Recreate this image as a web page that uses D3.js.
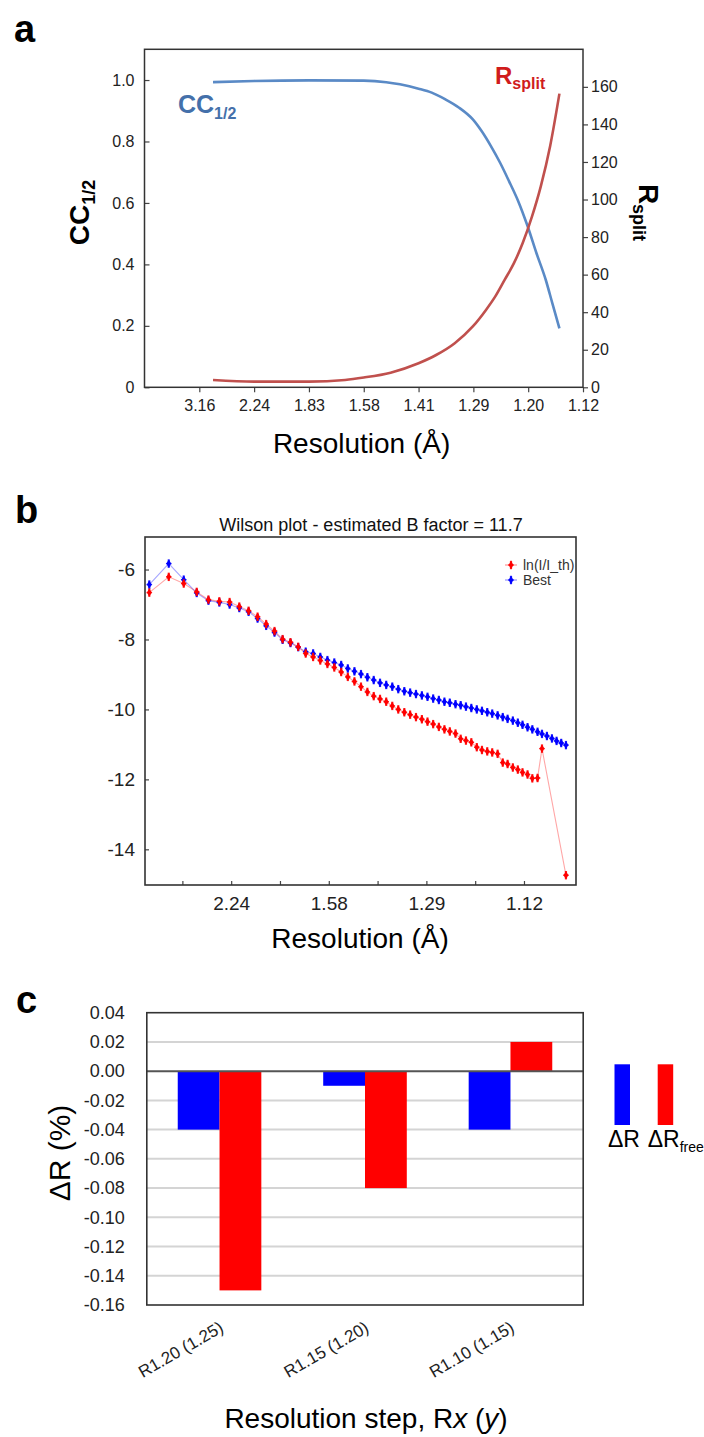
<!DOCTYPE html>
<html>
<head>
<meta charset="utf-8">
<script src="https://cdn.jsdelivr.net/npm/d3@7"></script>
<style>
  body { margin: 0; background: #fff; }
  svg { display: block; font-family: "Liberation Sans", Arial, sans-serif; }
</style>
</head>
<body>
<div id="fig"></div>
<script>
// panel a : CC1/2 and Rsplit against 1/d^2
const ccS    = [0.125, 0.2, 0.3, 0.4, 0.441, 0.466, 0.5, 0.524, 0.549, 0.574, 0.599, 0.615, 0.632, 0.649, 0.665, 0.682, 0.699, 0.715, 0.732, 0.744, 0.757]
const ccVals = [0.993, 0.997, 0.999, 0.998, 0.993, 0.986, 0.972, 0.959, 0.937, 0.910, 0.872, 0.834, 0.785, 0.730, 0.671, 0.605, 0.524, 0.437, 0.350, 0.274, 0.192]
const rsS    = [0.125, 0.2, 0.3, 0.366, 0.4, 0.449, 0.5, 0.532, 0.566, 0.599, 0.623, 0.640, 0.657, 0.674, 0.690, 0.707, 0.723, 0.740, 0.757]
const rsVals = [3.9, 3.0, 3.0, 3.9, 5.2, 7.8, 12.8, 17.2, 23.5, 32.4, 41.2, 48.4, 57.2, 66.1, 76.8, 91.0, 107, 128.4, 156.4]
const resTicksA = [0.1, 0.2, 0.3, 0.4, 0.5, 0.6, 0.7, 0.8]
const resLabelsA = ["3.16", "2.24", "1.83", "1.58", "1.41", "1.29", "1.20", "1.12"]

// panel b : Wilson plot
const wilsonS = [0.0322, 0.0721, 0.1028, 0.1294, 0.1534, 0.1757, 0.1968, 0.2166, 0.2357, 0.2541,
  0.2717, 0.2888, 0.3054, 0.3215, 0.3373, 0.3527, 0.3679, 0.3826, 0.3972, 0.4113,
  0.4254, 0.4390, 0.4526, 0.4660, 0.4791, 0.4921, 0.5050, 0.5177, 0.5301, 0.5424,
  0.5548, 0.5667, 0.5787, 0.5908, 0.6023, 0.6139, 0.6256, 0.6370, 0.6480, 0.6597,
  0.6703, 0.6811, 0.6921, 0.7033, 0.7139, 0.7247, 0.7349, 0.7460, 0.7565, 0.7664,
  0.7772, 0.7874, 0.7970, 0.8073, 0.8171, 0.8278, 0.8369, 0.8470, 0.8573, 0.8668,
  0.8763, 0.8860]
const bestVals = [-6.43, -5.83, -6.29, -6.67, -6.89, -6.94, -7.00, -7.10, -7.21, -7.40,
  -7.61, -7.80, -8.01, -8.10, -8.22, -8.35, -8.40, -8.50, -8.59, -8.66,
  -8.73, -8.83, -8.91, -8.99, -9.08, -9.16, -9.24, -9.30, -9.35, -9.42,
  -9.48, -9.52, -9.56, -9.60, -9.64, -9.69, -9.73, -9.78, -9.81, -9.85,
  -9.88, -9.92, -9.96, -10.00, -10.04, -10.08, -10.12, -10.17, -10.22, -10.27,
  -10.32, -10.38, -10.44, -10.51, -10.57, -10.64, -10.70, -10.76, -10.83, -10.90,
  -10.96, -11.02]
const lnVals = [-6.66, -6.21, -6.40, -6.64, -6.86, -6.91, -6.93, -7.06, -7.18, -7.35,
  -7.56, -7.76, -7.99, -8.08, -8.21, -8.40, -8.50, -8.60, -8.70, -8.80,
  -8.93, -9.07, -9.20, -9.35, -9.50, -9.62, -9.70, -9.78, -9.90, -10.00,
  -10.08, -10.15, -10.22, -10.28, -10.35, -10.42, -10.50, -10.57, -10.63, -10.69,
  -10.84, -10.89, -10.94, -11.08, -11.16, -11.20, -11.23, -11.27, -11.52, -11.56,
  -11.66, -11.72, -11.80, -11.86, -11.97, -11.96, -11.12, null, null, null,
  null, -14.74]
const wilsonYTicks = [-14, -12, -10, -8, -6]
const resTicksB = [0.1, 0.2, 0.3, 0.4, 0.5, 0.6, 0.7, 0.8]
const resLabelsB = ["", "2.24", "", "1.58", "", "1.29", "", "1.12"]

// panel c : change in R per resolution step
const steps = ["R1.20 (1.25)", "R1.15 (1.20)", "R1.10 (1.15)"]
const dR = [-0.04, -0.01, -0.04]
const dRfree = [-0.15, -0.08, 0.02]
const dTicks = [-0.16, -0.14, -0.12, -0.10, -0.08, -0.06, -0.04, -0.02, 0.00, 0.02, 0.04]

const svg = d3.select("#fig").append("svg")
  .attr("width", 704)
  .attr("height", 1437)
svg.append("rect").attr("width", 704).attr("height", 1437).attr("fill", "#fff")

const panelLabel = (x, y, t) => svg.append("text")
  .attr("x", x).attr("y", y)
  .attr("font-size", 38).attr("font-weight", "bold").attr("fill", "#000")
  .text(t)

function styleAxis(g, size) {
  g.select(".domain").remove()
  g.selectAll("line").attr("stroke", "#444").attr("stroke-width", 1.2)
  g.selectAll("text").attr("fill", "#222").attr("font-size", size)
    .attr("font-family", "Liberation Sans, Arial, sans-serif")
}

// ---------------- panel a ----------------
panelLabel(14, 42, "a")
const A = {left: 144.5, right: 583, top: 49.3, bottom: 387.3}
const xA = d3.scaleLinear().domain([0, 0.8]).range([A.left, A.right])
const yA = d3.scaleLinear().domain([0, 1.1]).range([A.bottom, A.top])
const yA2 = d3.scaleLinear().domain([0, 180]).range([A.bottom, A.top])

svg.append("g").attr("transform", `translate(${A.left},0)`)
  .call(d3.axisLeft(yA).tickValues([0, 0.2, 0.4, 0.6, 0.8, 1.0])
    .tickFormat(d => d === 0 ? "0" : d.toFixed(1)).tickSize(-5).tickPadding(10))
  .call(g => styleAxis(g, 16))
svg.append("g").attr("transform", `translate(${A.right},0)`)
  .call(d3.axisRight(yA2).tickValues(d3.range(0, 161, 20)).tickSize(5).tickPadding(3))
  .call(g => styleAxis(g, 16))
svg.append("g").attr("transform", `translate(0,${A.bottom})`)
  .call(d3.axisBottom(xA).tickValues(resTicksA)
    .tickFormat((d, i) => resLabelsA[i]).tickSize(5).tickPadding(7))
  .call(g => styleAxis(g, 16))

svg.append("rect")
  .attr("x", A.left).attr("y", A.top)
  .attr("width", A.right - A.left).attr("height", A.bottom - A.top)
  .attr("fill", "none").attr("stroke", "#333").attr("stroke-width", 1.5)

const ccLine = d3.line().curve(d3.curveMonotoneX)
  .x((d, i) => xA(ccS[i])).y(d => yA(d))
svg.append("path").attr("d", ccLine(ccVals))
  .attr("fill", "none").attr("stroke", "#5a8ac6").attr("stroke-width", 2.6)
const rsLine = d3.line().curve(d3.curveMonotoneX)
  .x((d, i) => xA(rsS[i])).y(d => yA2(d))
svg.append("path").attr("d", rsLine(rsVals))
  .attr("fill", "none").attr("stroke", "#c0504d").attr("stroke-width", 2.6)

const ccLab = svg.append("text").attr("x", 178).attr("y", 113)
  .attr("font-size", 25).attr("font-weight", "bold").attr("fill", "#4470aa")
ccLab.append("tspan").text("CC")
ccLab.append("tspan").attr("font-size", 16).attr("dy", 6).text("1/2")
const rsLab = svg.append("text").attr("x", 495).attr("y", 84)
  .attr("font-size", 24).attr("font-weight", "bold").attr("fill", "#d01c1c")
rsLab.append("tspan").text("R")
rsLab.append("tspan").attr("font-size", 16).attr("dy", 5).text("split")

const yTitleA = svg.append("text")
  .attr("transform", "translate(89,212.5) rotate(-90)")
  .attr("text-anchor", "middle").attr("font-size", 28).attr("font-weight", "bold")
yTitleA.append("tspan").text("CC")
yTitleA.append("tspan").attr("font-size", 18).attr("dy", 6).text("1/2")
const yTitleA2 = svg.append("text")
  .attr("transform", "translate(639,212.5) rotate(90)")
  .attr("text-anchor", "middle").attr("font-size", 28).attr("font-weight", "bold")
yTitleA2.append("tspan").text("R")
yTitleA2.append("tspan").attr("font-size", 18).attr("dy", 6).text("split")

svg.append("text").attr("x", 361.6).attr("y", 453)
  .attr("text-anchor", "middle").attr("font-size", 28).text("Resolution (Å)")

// ---------------- panel b ----------------
panelLabel(15, 523, "b")
const B = {left: 145, right: 576, top: 537, bottom: 885}
const xB = d3.scaleLinear().domain([0.0234, 0.9066]).range([B.left, B.right])
const yB = d3.scaleLinear().domain([-15.02, -5.07]).range([B.bottom, B.top])

svg.append("g").attr("transform", `translate(${B.left},0)`)
  .call(d3.axisLeft(yB).tickValues(wilsonYTicks).tickFormat(d => String(d))
    .tickSize(-4).tickPadding(10))
  .call(g => styleAxis(g, 19))
svg.append("g").attr("transform", `translate(0,${B.bottom})`)
  .call(d3.axisBottom(xB).tickValues(resTicksB)
    .tickFormat((d, i) => resLabelsB[i]).tickSize(-4).tickPadding(12))
  .call(g => styleAxis(g, 19))

svg.append("rect")
  .attr("x", B.left).attr("y", B.top)
  .attr("width", B.right - B.left).attr("height", B.bottom - B.top)
  .attr("fill", "none").attr("stroke", "#333").attr("stroke-width", 1.6)

svg.append("text").attr("x", 371).attr("y", 531)
  .attr("text-anchor", "middle").attr("font-size", 18).attr("fill", "#111")
  .text("Wilson plot - estimated B factor = 11.7")

const wilson = [
  {name: "ln(I/I_th)", color: "#ff0000", vals: lnVals},
  {name: "Best", color: "#0000ff", vals: bestVals},
]
const diamond = d3.symbol().type(d3.symbolDiamond).size(20)

function marker(g, x, y, color) {
  g.append("line").attr("x1", x).attr("x2", x).attr("y1", y - 4.2).attr("y2", y + 4.2)
    .attr("stroke", color).attr("stroke-width", 2.2).attr("opacity", 0.85)
  g.append("line").attr("x1", x - 2.8).attr("x2", x + 2.8).attr("y1", y).attr("y2", y)
    .attr("stroke", color).attr("stroke-width", 1.4).attr("opacity", 0.85)
  g.append("path").attr("d", diamond).attr("transform", `translate(${x},${y})`)
    .attr("fill", color)
}

// draw blue underneath red, lines first
const order = [wilson[1], wilson[0]]
order.forEach(sr => {
  const pts = sr.vals.map((v, i) => [wilsonS[i], v]).filter(p => p[1] !== null)
  svg.append("path")
    .attr("d", d3.line().x(p => xB(p[0])).y(p => yB(p[1]))(pts))
    .attr("fill", "none").attr("stroke", sr.color).attr("stroke-width", 1.1)
    .attr("opacity", 0.35)
})
order.forEach(sr => {
  const g = svg.append("g")
  sr.vals.forEach((v, i) => {
    if (v === null) return
    marker(g, xB(wilsonS[i]), yB(v), sr.color)
  })
})

// legend
wilson.forEach((sr, i) => {
  const ly = 565 + i * 15
  const g = svg.append("g")
  g.append("line").attr("x1", 505).attr("x2", 517).attr("y1", ly).attr("y2", ly)
    .attr("stroke", sr.color).attr("stroke-width", 1).attr("opacity", 0.5)
  marker(g, 511, ly, sr.color)
  g.append("text").attr("x", 523).attr("y", ly + 4.5)
    .attr("font-size", 14).attr("fill", "#333").text(sr.name)
})

svg.append("text").attr("x", 360).attr("y", 948)
  .attr("text-anchor", "middle").attr("font-size", 28).text("Resolution (Å)")

// ---------------- panel c ----------------
panelLabel(16, 1013, "c")
const C = {left: 146.8, right: 583.2, top: 1012.7, bottom: 1305}
const xC = d3.scaleBand().domain(steps).range([C.left, C.right])
  .paddingInner(0.4254).paddingOuter(0.2127)
const xSub = d3.scaleBand().domain(["dR", "dRfree"]).range([0, xC.bandwidth()])
const yC = d3.scaleLinear().domain([-0.16, 0.04]).range([C.bottom, C.top])

svg.append("g").selectAll("line")
  .data(dTicks.filter(d => d > -0.159 && d < 0.039 && Math.abs(d) > 1e-9))
  .join("line")
  .attr("x1", C.left).attr("x2", C.right)
  .attr("y1", d => yC(d)).attr("y2", d => yC(d))
  .attr("stroke", "#d4d4d4").attr("stroke-width", 2)

const barData = steps.flatMap((s, i) => [
  {step: s, key: "dR", v: dR[i], color: "#0000ff"},
  {step: s, key: "dRfree", v: dRfree[i], color: "#ff0000"},
])
svg.append("g").selectAll("rect").data(barData).join("rect")
  .attr("x", d => xC(d.step) + xSub(d.key))
  .attr("width", xSub.bandwidth())
  .attr("y", d => yC(Math.max(0, d.v)))
  .attr("height", d => Math.abs(yC(d.v) - yC(0)))
  .attr("fill", d => d.color)

svg.append("line").attr("x1", C.left).attr("x2", C.right)
  .attr("y1", yC(0)).attr("y2", yC(0))
  .attr("stroke", "#555").attr("stroke-width", 2)

svg.append("g").attr("transform", `translate(${C.left},0)`)
  .call(d3.axisLeft(yC).tickValues(dTicks)
    .tickFormat(d => (Math.abs(d) < 1e-9 ? 0 : d).toFixed(2)).tickSize(0).tickPadding(22))
  .call(g => styleAxis(g, 18))

svg.append("rect")
  .attr("x", C.left).attr("y", C.top)
  .attr("width", C.right - C.left).attr("height", C.bottom - C.top)
  .attr("fill", "none").attr("stroke", "#333").attr("stroke-width", 1.6)

svg.append("g").selectAll("text").data(steps).join("text")
  .attr("transform", d => `translate(${xC(d) + xC.bandwidth() / 2 + 5},1331) rotate(-30)`)
  .attr("text-anchor", "end").attr("font-size", 17).attr("fill", "#222")
  .text(d => d)

const yTitleC = svg.append("text")
  .attr("transform", "translate(70,1153) rotate(-90)")
  .attr("text-anchor", "middle").attr("font-size", 30).text("ΔR (%)")

const xTitleC = svg.append("text").attr("x", 366).attr("y", 1428)
  .attr("text-anchor", "middle").attr("font-size", 28)
xTitleC.append("tspan").text("Resolution step, R")
xTitleC.append("tspan").attr("font-style", "italic").text("x")
xTitleC.append("tspan").text(" (")
xTitleC.append("tspan").attr("font-style", "italic").text("y")
xTitleC.append("tspan").text(")")

// legend bars for panel c
const legC = [
  {x: 614.5, color: "#0000ff", label: "ΔR", sub: "", tx: 608},
  {x: 657.7, color: "#ff0000", label: "ΔR", sub: "free", tx: 647.7},
]
legC.forEach(l => {
  svg.append("rect").attr("x", l.x).attr("y", 1064.3).attr("width", 15.5).attr("height", 60.7)
    .attr("fill", l.color)
  const t = svg.append("text").attr("x", l.tx).attr("y", 1147).attr("font-size", 23)
  t.append("tspan").text(l.label)
  if (l.sub) t.append("tspan").attr("font-size", 14).attr("dy", 5).text(l.sub)
})
</script>
</body>
</html>
